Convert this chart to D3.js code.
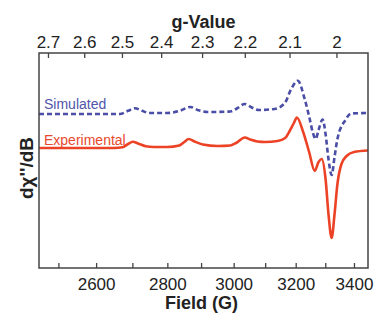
<!DOCTYPE html>
<head>
    <meta charset="utf-8">
    <script src="https://cdnjs.cloudflare.com/ajax/libs/d3/7.8.5/d3.min.js" charset="utf-8"></script>
    <style>
        html, body {
            margin: 0px;
            padding: 0px;
            background: #fff;
        }
        svg {
            display: block;
            font-family: "Liberation Sans", Arial, sans-serif;
        }
    </style>
</head>

<body>
<svg id="chart" width="374" height="314"></svg>

<script>
// field (G) and intensity (a.u.)
var expField = [2450, 2550, 2650, 2672, 2688, 2701, 2716, 2738, 2760, 2800, 2835, 2850, 2863, 2880, 2905, 2950, 2990,
    3010, 3035, 3052, 3075, 3100, 3140, 3165, 3180, 3194, 3204, 3225, 3245, 3264, 3277, 3288, 3301,
    3311, 3322, 3332, 3342, 3356, 3374, 3400, 3450];
var expValue = [0, 0, 0, 0.08, 0.4, 0.63, 0.45, 0.18, 0.1, 0.1, 0.25, 0.6, 0.9, 0.65, 0.35, 0.2, 0.25,
    0.55, 1.05, 0.85, 0.65, 0.6, 0.7, 1.0, 1.7, 2.5, 3.05, 1.6, -0.4, -2.3, -1.4, -1.1, -3.1,
    -6.6, -9.0, -6.6, -3.6, -1.6, -0.8, -0.4, -0.25];

var simField = [2450, 2665, 2688, 2707, 2727, 2748, 2800, 2835, 2868, 2892, 2920, 2990, 3010, 3035, 3057, 3080,
    3130, 3164, 3185, 3207, 3230, 3247, 3257, 3267, 3277, 3291, 3301, 3311, 3322, 3332, 3342, 3370,
    3390, 3450];
var simValue = [0, 0, 0.32, 0.57, 0.32, 0.1, 0.1, 0.3, 0.7, 0.38, 0.2, 0.25, 0.55, 1.0, 0.65, 0.4,
    0.5, 1.1, 2.5, 3.33, 1.5, -0.5, -1.8, -2.5, -1.6, -0.55, -2.0, -4.5, -6.1, -4.3, -2.5, -0.6,
    0.05, 0.1];
var simOffset = 3.4;

var fieldTicks = [2500, 2600, 2700, 2800, 2900, 3000, 3100, 3200, 3300, 3400];
var fieldLabels = [2600, 2800, 3000, 3200, 3400];
var gTicks = [2.7, 2.6, 2.5, 2.4, 2.3, 2.2, 2.1, 2.0];
var gConst = 6677; // g = gConst / field

var svg = d3.select('#chart');
var plotL = 39, plotR = 368, plotT = 53, plotB = 268;

var x = d3.scaleLog().domain([2450, 3450]).range([plotL, plotR]);
var gx = d3.scaleLog().domain([gConst / 2450, gConst / 3450]).range([plotL, plotR]);
var y = d3.scaleLinear().domain([-12, 9.5]).range([plotB, plotT]);

var line = d3.line()
    .x(function(d) { return x(d[0]); })
    .y(function(d) { return y(d[1]); })
    .curve(d3.curveMonotoneX);

svg.append('path')
    .datum(expField.map(function(f, i) { return [f, expValue[i]]; }))
    .attr('d', line)
    .attr('fill', 'none')
    .attr('stroke', '#ec4326')
    .attr('stroke-width', 2.6)
    .attr('stroke-linejoin', 'round');

svg.append('path')
    .datum(simField.map(function(f, i) { return [f, simValue[i] + simOffset]; }))
    .attr('d', line)
    .attr('fill', 'none')
    .attr('stroke', '#4b4ea6')
    .attr('stroke-width', 2.6)
    .style('stroke-dasharray', '5,3');

// axes
var xAxis = d3.axisBottom(x)
    .tickValues(fieldTicks)
    .tickSizeInner(-5)
    .tickSizeOuter(0)
    .tickPadding(10)
    .tickFormat(function(d) { return fieldLabels.indexOf(d) >= 0 ? d : ''; });

var gAxis = d3.axisTop(gx)
    .tickValues(gTicks)
    .tickSizeInner(-5)
    .tickSizeOuter(0)
    .tickPadding(5)
    .tickFormat(function(d) { return d === 2 ? '2' : d.toFixed(1); });

svg.append('g').attr('transform', 'translate(0,' + plotB + ')').call(xAxis);
svg.append('g').attr('transform', 'translate(0,' + plotT + ')').call(gAxis);

svg.selectAll('.domain').remove();
svg.selectAll('.tick line').attr('stroke', '#444').attr('stroke-width', 1.3);
svg.selectAll('.tick text')
    .attr('font-size', 17)
    .attr('font-family', '"Liberation Sans", Arial, sans-serif')
    .attr('fill', '#222');

svg.append('rect')
    .attr('x', plotL).attr('y', plotT)
    .attr('width', plotR - plotL).attr('height', plotB - plotT)
    .attr('fill', 'none')
    .attr('stroke', '#444')
    .attr('stroke-width', 1.5);

// titles
svg.append('text')
    .attr('x', (plotL + plotR) / 2).attr('y', 28)
    .attr('text-anchor', 'middle')
    .attr('font-size', 18).attr('font-weight', 'bold').attr('fill', '#222')
    .text('g-Value');

svg.append('text')
    .attr('x', (plotL + plotR) / 2 - 2).attr('y', 309)
    .attr('text-anchor', 'middle')
    .attr('font-size', 18).attr('font-weight', 'bold').attr('fill', '#222')
    .text('Field (G)');

svg.append('text')
    .attr('transform', 'translate(33,168) rotate(-90)')
    .attr('text-anchor', 'middle')
    .attr('font-size', 19).attr('font-weight', 'bold').attr('fill', '#222')
    .text('d\u03C7\'\'/dB');

// legend labels
svg.append('text')
    .attr('x', 44).attr('y', 109)
    .attr('font-size', 14).attr('fill', '#5155aa')
    .text('Simulated');

svg.append('text')
    .attr('x', 44).attr('y', 145)
    .attr('font-size', 14).attr('fill', '#e8492c')
    .text('Experimental');
</script>
</body>
</html>
